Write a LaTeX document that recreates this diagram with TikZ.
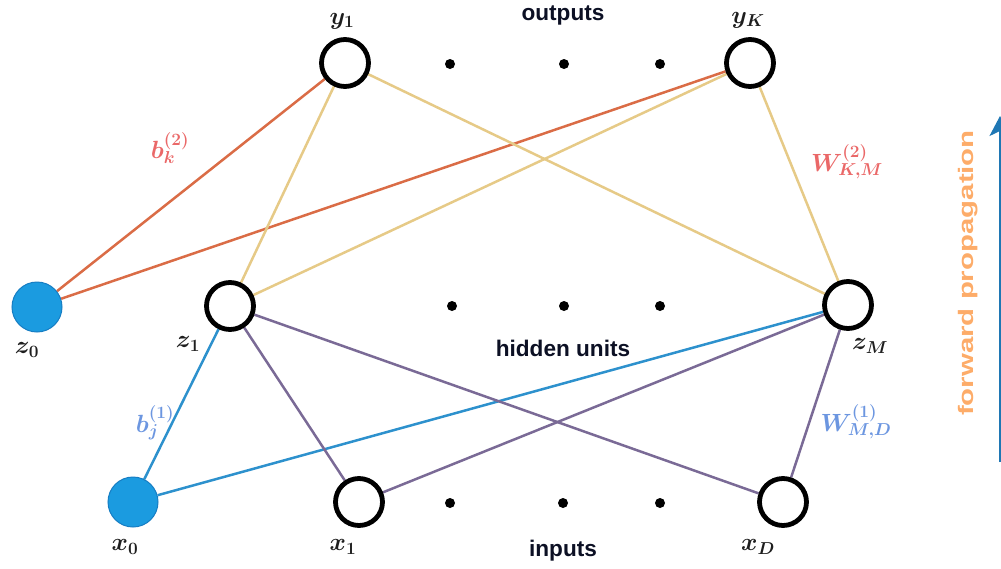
\documentclass[tikz,border=0pt]{standalone}
\usepackage[no-math]{fontspec}
\newfontfamily\labelfont{Liberation Sans}
\usetikzlibrary{arrows.meta}
\pgfdeclarelayer{background}
\pgfsetlayers{background,main}

\definecolor{biasfill}{RGB}{27,155,224}
\definecolor{biasline}{RGB}{22,125,195}
\definecolor{outedge}{RGB}{218,108,70}
\definecolor{hidedge}{RGB}{230,202,135}
\definecolor{inbias}{RGB}{45,145,205}
\definecolor{inedge}{RGB}{122,106,150}
\definecolor{redlabel}{RGB}{234,104,104}
\definecolor{bluelabel}{RGB}{108,150,224}
\definecolor{fwdtext}{RGB}{253,172,105}
\definecolor{fwdarrow}{RGB}{31,119,180}
\definecolor{layertext}{RGB}{12,16,36}
\definecolor{mathtext}{RGB}{30,30,30}

\begin{document}
\begin{tikzpicture}[x=1pt,y=-1pt,
  unit/.style={circle, draw=black, line width=4.8pt, fill=white,
    minimum size=47pt, inner sep=0pt},
  biasunit/.style={circle, draw=biasline, line width=1pt, fill=biasfill,
    minimum size=50pt, inner sep=0pt},
  gap/.style={circle, fill=black, minimum size=10pt, inner sep=0pt},
  mathlbl/.style={font=\fontsize{23}{27}\selectfont\boldmath, text=mathtext, inner sep=0pt},
  weightlbl/.style={font=\fontsize{23}{27}\selectfont\boldmath, inner sep=0pt},
  layerlbl/.style={font=\labelfont\bfseries\fontsize{22.6}{26}\selectfont, text=layertext, inner sep=0pt},
  link/.style={line width=2.5pt}]
\useasboundingbox (0,0) rectangle (1001,568);

% output layer
\node[unit] (y1) at (345,63) {};
\node[unit] (yK) at (750,63) {};
\node[gap] (ty1) at (450,64) {};
\node[gap] (ty2) at (564,64) {};
\node[gap] (ty3) at (660,64) {};

% hidden layer
\node[biasunit] (z0) at (37,307) {};
\node[unit] (z1) at (230,306) {};
\node[unit] (zM) at (848,305) {};
\node[gap] (th1) at (452,306) {};
\node[gap] (th2) at (564,306) {};
\node[gap] (th3) at (660,306) {};

% input layer
\node[biasunit] (x0) at (133,502) {};
\node[unit] (x1) at (359,502) {};
\node[unit] (xD) at (783,502) {};
\node[gap] (tb1) at (450,503) {};
\node[gap] (tb2) at (563,503) {};
\node[gap] (tb3) at (660,503) {};

% unit names
\node[mathlbl] (ly1) at (342,21) {$y_1$};
\node[mathlbl] (lyK) at (748,20) {$y_K$};
\node[mathlbl] (lz0) at (27,350) {$z_0$};
\node[mathlbl] (lz1) at (188,344) {$z_1$};
\node[mathlbl] (lzM) at (870,346) {$z_M$};
\node[mathlbl] (lx0) at (125,547) {$x_0$};
\node[mathlbl] (lx1) at (343,547) {$x_1$};
\node[mathlbl] (lxD) at (758,547) {$x_D$};

% layer names
\node[layerlbl] (outputs) at (563,15) {outputs};
\node[layerlbl] (hidden) at (563,348) {hidden units};
\node[layerlbl] (inputs) at (563,551) {inputs};

% weight names
\node[weightlbl, text=redlabel] (bk) at (170,148) {$b_k^{(2)}$};
\node[weightlbl, text=redlabel] (WKM) at (847,162) {$W_{K,M}^{(2)}$};
\node[weightlbl, text=bluelabel] (bj) at (155,423) {$b_j^{(1)}$};
\node[weightlbl, text=bluelabel] (WMD) at (856,422) {$W_{M,D}^{(1)}$};

% direction of propagation
\coordinate (fwdbot) at (1000,462);
\coordinate (fwdtop) at (1000,116);
\draw[fwdarrow, line width=2pt, -{Stealth[length=20pt,width=21pt,inset=5pt]}] (fwdbot) -- (fwdtop);
\node[rotate=90, text=fwdtext, inner sep=0pt,
  font=\labelfont\bfseries\fontsize{21}{25}\selectfont] (fwd) at (968,273)
  {\scalebox{1.4}[1]{forward propagation}};

\begin{pgfonlayer}{background}
  % hidden -> output
  \draw[link, outedge] (z0) -- (y1);
  \draw[link, outedge] (z0) -- (yK);
  \draw[link, hidedge] (z1) -- (y1);
  \draw[link, hidedge] (z1) -- (yK);
  \draw[link, hidedge] (zM) -- (y1);
  \draw[link, hidedge] (zM) -- (yK);
  % input -> hidden
  \draw[link, inbias] (x0) -- (z1);
  \draw[link, inbias] (x0) -- (zM);
  \draw[link, inedge] (x1) -- (z1);
  \draw[link, inedge] (x1) -- (zM);
  \draw[link, inedge] (xD) -- (z1);
  \draw[link, inedge] (xD) -- (zM);
\end{pgfonlayer}
\end{tikzpicture}
\end{document}
